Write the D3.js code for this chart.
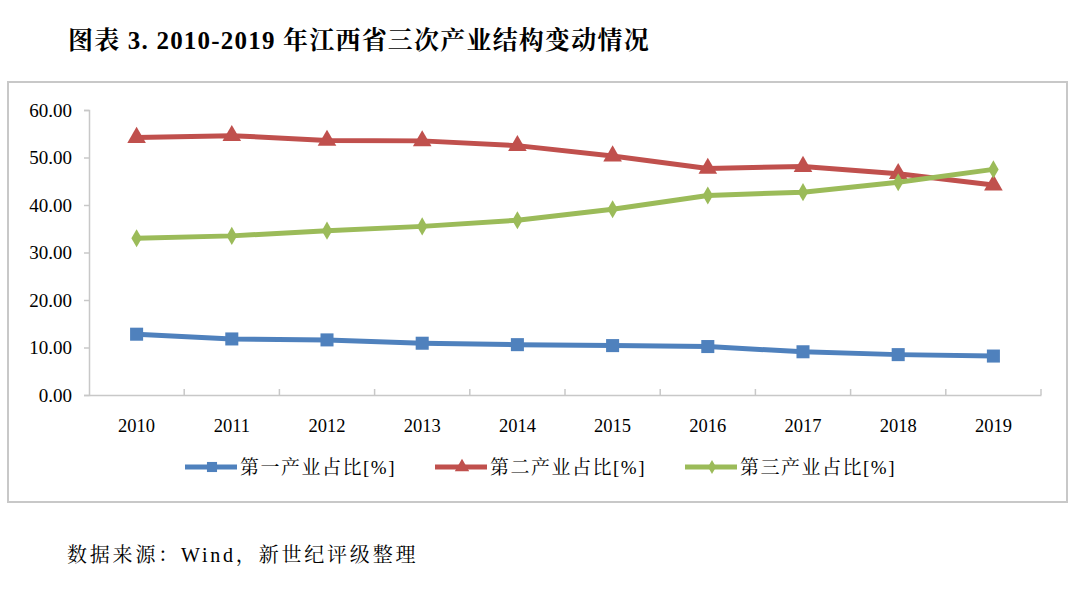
<!DOCTYPE html>
<html><head><meta charset="utf-8">
<script src="https://cdn.jsdelivr.net/npm/d3@7/dist/d3.min.js"></script>
<style>body{margin:0;background:#fff}svg{display:block}</style>
</head><body>
<script>
const years = ["2010","2011","2012","2013","2014","2015","2016","2017","2018","2019"];
const primary = [12.8, 11.8, 11.6, 10.9, 10.6, 10.4, 10.2, 9.1, 8.5, 8.2];
const secondary = [54.2, 54.6, 53.6, 53.5, 52.5, 50.3, 47.7, 48.1, 46.6, 44.2];
const tertiary = [33.0, 33.5, 34.6, 35.5, 36.8, 39.1, 42.0, 42.7, 44.8, 47.5];
const seriesNames = ["第一产业占比[%]", "第二产业占比[%]", "第三产业占比[%]"];
const yTicks = [0, 10, 20, 30, 40, 50, 60];
const title = "图表 3. 2010-2019 年江西省三次产业结构变动情况";
const source = "数据来源：Wind，新世纪评级整理";

const W = 1080, H = 596;
const serif = "'Times New Roman','Liberation Serif','Noto Serif CJK SC','Noto Sans CJK SC',serif";
const svg = d3.select("body").append("svg").attr("width", W).attr("height", H);

svg.append("text").attr("x", 68).attr("y", 49)
  .attr("font-family", serif).attr("font-weight", "bold").attr("font-size", 25)
  .attr("letter-spacing", 1.2).attr("fill", "#000").text(title);

svg.append("rect").attr("x", 8).attr("y", 82).attr("width", 1059).attr("height", 420)
  .attr("fill", "none").attr("stroke", "#c8c8c8").attr("stroke-width", 2);

const x = d3.scaleBand().domain(years).range([89, 1041]);
const y = d3.scaleLinear().domain([0, 60]).range([395, 110]);

// y axis
const gy = svg.append("g").attr("transform", "translate(89,0)")
  .call(d3.axisLeft(y).tickValues(yTicks).tickSize(5).tickPadding(12).tickFormat(d3.format(".2f")));
gy.select(".domain").attr("stroke", "#c8c8c8").attr("stroke-width", 1.5);
gy.selectAll(".tick line").attr("stroke", "#c8c8c8").attr("stroke-width", 1.5);
gy.selectAll("text").attr("font-family", serif).attr("font-size", 19).attr("fill", "#000");

// x axis
const gx = svg.append("g").attr("transform", "translate(0,395)")
  .call(d3.axisBottom(x).tickSize(0).tickPadding(24));
gx.select(".domain").attr("stroke", "#c8c8c8").attr("stroke-width", 1.5);
gx.selectAll(".tick line").remove();
gx.selectAll("text").attr("font-family", serif).attr("font-size", 18.5).attr("fill", "#000");
// band boundary ticks
const bounds = years.map(d => x(d)).concat([x.range()[1]]).slice(1);
gx.selectAll("line.bt").data(bounds).enter().append("line").attr("class", "bt")
  .attr("x1", d => d).attr("x2", d => d).attr("y1", 0).attr("y2", -6)
  .attr("stroke", "#c8c8c8").attr("stroke-width", 1.5);

const cx = d => x(d) + x.bandwidth() / 2;
const colors = ["#4F81BD", "#C0504D", "#9BBB59"];
const data = [primary, secondary, tertiary];
const shapes = [d3.symbolSquare, d3.symbolTriangle, d3.symbolDiamond];
const sizes = [170, 150, 95];

const line = d3.line().x((d, i) => cx(years[i])).y(d => y(d));
data.forEach((vals, k) => {
  svg.append("path").datum(vals).attr("d", line).attr("fill", "none")
    .attr("stroke", colors[k]).attr("stroke-width", 5).attr("stroke-linejoin", "round");
  svg.selectAll(null).data(vals).enter().append("path")
    .attr("d", d3.symbol().type(shapes[k]).size(sizes[k]))
    .attr("transform", (d, i) => `translate(${cx(years[i])},${y(d)})`)
    .attr("fill", colors[k]);
});

// legend
const legX = [185, 435, 685];
seriesNames.forEach((name, k) => {
  const g = svg.append("g").attr("transform", `translate(${legX[k]},467)`);
  g.append("line").attr("x1", 0).attr("x2", 52).attr("y1", 0).attr("y2", 0)
    .attr("stroke", colors[k]).attr("stroke-width", 5);
  g.append("path").attr("d", d3.symbol().type(shapes[k]).size(sizes[k] * 0.6))
    .attr("transform", "translate(27,0)").attr("fill", colors[k]);
  g.append("text").attr("x", 55).attr("y", 7).attr("font-family", serif)
    .attr("font-size", 19).attr("letter-spacing", 1.5).attr("fill", "#000").text(name);
});

svg.append("text").attr("x", 67).attr("y", 562).attr("font-family", serif)
  .attr("font-size", 20).attr("letter-spacing", 2.8).attr("fill", "#000").text(source);
</script>
</body></html>
